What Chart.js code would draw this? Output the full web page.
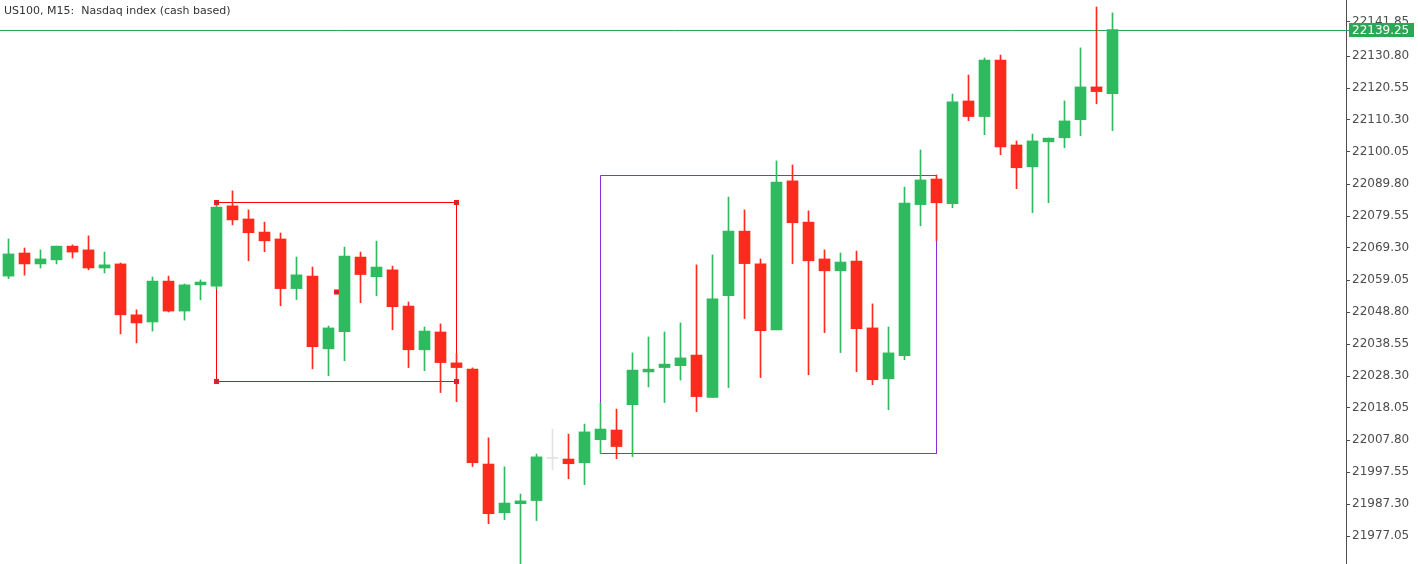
<!DOCTYPE html>
<html>
<head>
<meta charset="utf-8">
<script src="https://cdn.jsdelivr.net/npm/chart.js@4.4.1/dist/chart.umd.min.js"></script>
<style>
html,body{margin:0;padding:0;background:#ffffff;overflow:hidden}
canvas{display:block}
</style>
</head>
<body>
<canvas id="c" width="1418" height="564"></canvas>
<script>
// ---- data ----
const symbolTitle = 'US100, M15:  Nasdaq index (cash based)';
const candleIndex = [
  0,1,2,3,4,5,6,7,8,9,10,11,12,13,14,15,16,17,18,19,
  20,21,22,23,24,25,26,27,28,29,30,31,32,33,34,35,36,37,38,39,
  40,41,42,43,44,45,46,47,48,49,50,51,52,53,54,55,56,57,58,59,
  60,61,62,63,64,65,66,67,68,69
];
const opens = [
  22060.3, 22067.7, 22064.2, 22065.5, 22069.9, 22068.7, 22062.9, 22064.2, 22047.9, 22045.6,
  22058.7, 22049.1, 22057.5, 22057.1, 22082.8, 22078.6, 22074.4, 22072.2, 22056.3, 22060.3,
  22037.0, 22042.5, 22066.4, 22060.1, 22062.3, 22050.7, 22036.7, 22042.4, 22032.5, 22030.5,
  22000.1, 21984.5, 21987.4, 21988.4, 22001.9, 22001.7, 22000.5, 22007.9, 22011.0, 22019.1,
  22029.6, 22031.0, 22031.6, 22035.0, 22021.4, 22054.0, 22074.7, 22064.2, 22043.1, 22090.8,
  22077.6, 22065.8, 22062.0, 22065.1, 22043.7, 22027.4, 22034.8, 22083.2, 22091.4, 22083.5,
  22116.4, 22111.4, 22129.5, 22102.3, 22095.3, 22103.3, 22104.6, 22110.4, 22120.9, 22118.7
];
const highs = [
  22072.2, 22069.3, 22068.7, 22069.9, 22070.3, 22073.2, 22068.0, 22064.5, 22049.5, 22060.0,
  22060.3, 22057.8, 22059.1, 22084.0, 22087.6, 22081.5, 22077.6, 22074.1, 22066.4, 22063.2,
  22044.3, 22069.6, 22068.0, 22071.5, 22063.5, 22052.0, 22044.0, 22045.0, 22035.5, 22030.9,
  22008.5, 21999.2, 21990.5, 22003.3, 22011.3, 22009.7, 22012.9, 22019.7, 22017.7, 22035.7,
  22040.8, 22042.4, 22045.3, 22063.9, 22067.1, 22085.6, 22081.5, 22065.8, 22097.2, 22095.9,
  22081.2, 22068.7, 22067.7, 22068.3, 22051.4, 22044.0, 22088.8, 22100.7, 22092.7, 22118.6,
  22124.7, 22130.2, 22131.1, 22103.6, 22105.8, 22104.5, 22116.4, 22133.4, 22146.5, 22144.6
];
const lows = [
  22059.5, 22060.6, 22062.9, 22064.2, 22066.1, 22062.3, 22061.3, 22041.8, 22038.9, 22042.7,
  22048.8, 22046.2, 22052.7, 22056.2, 22076.7, 22065.2, 22068.1, 22050.8, 22052.8, 22030.6,
  22028.4, 22033.2, 22051.8, 22054.0, 22043.1, 22031.0, 22030.0, 22023.0, 22020.1, 21999.3,
  21981.0, 21982.3, 21968.1, 21982.0, 21998.3, 21995.4, 21993.5, 22003.5, 22001.8, 22002.5,
  22024.8, 22019.8, 22027.0, 22016.9, 22021.4, 22024.6, 22046.7, 22027.8, 22043.1, 22064.3,
  22028.7, 22042.2, 22035.8, 22029.7, 22025.5, 22017.5, 22033.5, 22076.4, 22071.6, 22082.2,
  22110.1, 22105.6, 22099.2, 22088.3, 22080.6, 22083.8, 22101.4, 22105.3, 22115.5, 22106.9
];
const closes = [
  22067.4, 22064.2, 22065.8, 22069.9, 22068.0, 22062.9, 22063.9, 22047.9, 22045.3, 22058.7,
  22049.1, 22057.5, 22058.4, 22082.4, 22078.3, 22074.2, 22071.6, 22056.3, 22060.7, 22037.7,
  22043.7, 22066.7, 22060.8, 22063.2, 22050.5, 22036.7, 22042.7, 22032.6, 22031.0, 22000.5,
  21984.2, 21987.6, 21988.3, 22002.4, 22001.9, 22000.2, 22010.4, 22011.3, 22005.7, 22030.2,
  22030.5, 22032.1, 22034.1, 22021.7, 22053.0, 22074.7, 22064.3, 22042.8, 22090.4, 22077.4,
  22065.2, 22062.0, 22064.8, 22043.5, 22027.1, 22035.7, 22083.7, 22091.1, 22083.8, 22116.1,
  22111.4, 22129.5, 22101.7, 22095.0, 22103.6, 22104.5, 22110.0, 22120.9, 22119.4, 22139.25
];
const priceTickValues = [
  22141.85, 22130.80, 22120.55, 22110.30, 22100.05, 22089.80, 22079.55, 22069.30, 22059.05,
  22048.80, 22038.55, 22028.30, 22018.05, 22007.80, 21997.55, 21987.30, 21977.05
];
const priceTickLabels = [
  '22141.85', '22130.80', '22120.55', '22110.30', '22100.05', '22089.80', '22079.55', '22069.30', '22059.05',
  '22048.80', '22038.55', '22028.30', '22018.05', '22007.80', '21997.55', '21987.30', '21977.05'
];
const lastPrice = 22139.25;
const lastPriceLabel = '22139.25';
// rectangles drawn on the chart (candle index, price)
const redRectX = [13, 28];
const redRectY = [22026.54, 22083.87];
const purpleRectX = [37, 58];
const purpleRectY = [22003.48, 22092.52];

// ---- styles ----
const UP = '#2fba5f';
const DOWN = '#ff2a1e';
const DOJI = '#e2e2e2';
const LINE_GREEN = '#2aa855';
const AXIS = '#4d4d4d';
const FONT = '"DejaVu Sans", "Liberation Sans", sans-serif';

const candleColors = candleIndex.map(i =>
  closes[i] > opens[i] ? UP : (closes[i] < opens[i] ? DOWN : DOJI));

function rectPath(xs, ys) {
  return [
    {x: xs[0], y: ys[1]}, {x: xs[1], y: ys[1]},
    {x: xs[1], y: ys[0]}, {x: xs[0], y: ys[0]},
    {x: xs[0], y: ys[1]}
  ];
}
const redMid = {x: (redRectX[0] + redRectX[1]) / 2, y: (redRectY[0] + redRectY[1]) / 2};
const redAnchors = [
  {x: redRectX[0], y: redRectY[1]}, {x: redRectX[1], y: redRectY[1]},
  {x: redRectX[0], y: redRectY[0]}, {x: redRectX[1], y: redRectY[0]},
  redMid
];

const PLOT_RIGHT = 1346;   // chart area right edge in px
const AXIS_WIDTH = 1418 - PLOT_RIGHT;
const PX_PER_CANDLE = 16;
const xMin = -8.5 / PX_PER_CANDLE;
const xMax = xMin + PLOT_RIGHT / PX_PER_CANDLE;
const yMax = 22148.7375;
const yMin = yMax - 564 * 10.25 / 32;

function zeroPadding(scale) {
  scale.paddingTop = 0;
  scale.paddingBottom = 0;
  scale.paddingLeft = 0;
  scale.paddingRight = 0;
}

const overlayPlugin = {
  id: 'overlay',
  beforeDatasetsDraw(chart) {
    const {ctx, chartArea, scales} = chart;
    const py = Math.round(scales.y.getPixelForValue(lastPrice)) + 0.5;
    ctx.save();
    ctx.strokeStyle = LINE_GREEN;
    ctx.lineWidth = 1;
    ctx.beginPath();
    ctx.moveTo(chartArea.left, py);
    ctx.lineTo(chartArea.right + 3, py);
    ctx.stroke();
    ctx.restore();
  },
  afterDraw(chart) {
    const {ctx, chartArea, scales} = chart;
    const py = Math.round(scales.y.getPixelForValue(lastPrice));
    ctx.save();
    // last price box
    ctx.fillStyle = LINE_GREEN;
    ctx.fillRect(chartArea.right + 3, py - 7, 65, 14);
    ctx.fillStyle = '#ffffff';
    ctx.font = '12px ' + FONT;
    ctx.textBaseline = 'middle';
    ctx.textAlign = 'left';
    ctx.fillText(lastPriceLabel, chartArea.right + 6, py + 0.5);
    // title
    ctx.fillStyle = '#333333';
    ctx.font = '11px ' + FONT;
    ctx.textBaseline = 'alphabetic';
    ctx.fillText(symbolTitle, 4, 14);
    ctx.restore();
  }
};

new Chart(document.getElementById('c'), {
  type: 'bar',
  data: {
    datasets: [
      {
        type: 'scatter',
        data: redAnchors,
        pointStyle: 'rect',
        pointRadius: 3.6,
        pointHoverRadius: 3.6,
        pointBackgroundColor: '#ff1a1a',
        pointBorderWidth: 0,
        order: -2
      },
      {
        type: 'scatter',
        data: redAnchors,
        pointStyle: 'rect',
        pointRadius: 1.4,
        pointHoverRadius: 1.4,
        pointBackgroundColor: '#555555',
        pointBorderWidth: 0,
        order: -3
      },
      {
        type: 'bar',
        data: candleIndex.map(i => ({x: i, y: [opens[i], closes[i]]})),
        backgroundColor: candleColors,
        barThickness: 11,
        minBarLength: 1,
        grouped: false,
        borderWidth: 0,
        order: 1
      },
      {
        type: 'bar',
        data: candleIndex.map(i => ({x: i, y: [lows[i], highs[i]]})),
        backgroundColor: candleColors,
        barThickness: 1,
        grouped: false,
        borderWidth: 0,
        order: 2
      },
      {
        type: 'line',
        data: rectPath(redRectX, redRectY),
        borderColor: '#ff0000',
        borderWidth: 1,
        pointRadius: 0,
        fill: false,
        tension: 0,
        order: 3
      },
      {
        type: 'line',
        data: rectPath(purpleRectX, purpleRectY),
        borderColor: '#8a2be2',
        borderWidth: 1,
        pointRadius: 0,
        fill: false,
        tension: 0,
        order: 4
      }
    ]
  },
  options: {
    responsive: false,
    animation: false,
    devicePixelRatio: 1,
    layout: {padding: 0, autoPadding: false},
    plugins: {legend: {display: false}, tooltip: {enabled: false}, title: {display: false}},
    events: [],
    scales: {
      x: {
        type: 'linear',
        display: false,
        offset: false,
        min: xMin,
        max: xMax,
        afterFit: zeroPadding
      },
      y: {
        type: 'linear',
        position: 'right',
        min: yMin,
        max: yMax,
        beginAtZero: false,
        afterBuildTicks(scale) {
          scale.ticks = priceTickValues.map(v => ({value: v}));
        },
        afterFit(scale) {
          scale.width = AXIS_WIDTH;
          zeroPadding(scale);
        },
        border: {display: true, color: AXIS, width: 1},
        grid: {drawOnChartArea: false, drawTicks: true, tickLength: 4, tickColor: AXIS, color: AXIS},
        ticks: {
          color: AXIS,
          padding: 2,
          font: {family: FONT, size: 12},
          callback(value) {
            const k = priceTickValues.indexOf(value);
            return k >= 0 ? priceTickLabels[k] : '';
          }
        }
      }
    }
  },
  plugins: [overlayPlugin]
});
</script>
</body>
</html>
